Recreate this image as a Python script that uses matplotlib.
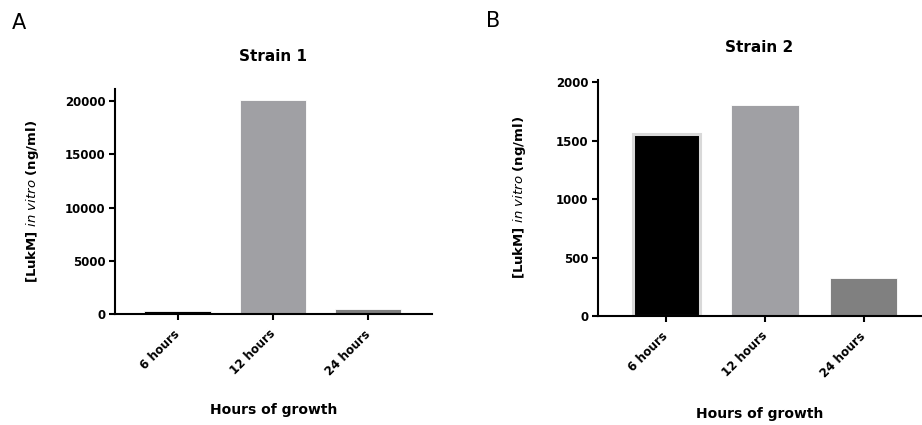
import numpy as np
import matplotlib.pyplot as plt

plt.rcParams['font.family'] = ['DejaVu Sans']
plt.rcParams['mathtext.fontset'] = 'custom'
plt.rcParams['mathtext.it'] = 'DejaVu Sans:italic'
plt.rcParams['mathtext.rm'] = 'DejaVu Sans:bold'

# Data
categories = ['6 hours', '12 hours', '24 hours']
strain1 = [300, 20050, 470]
strain2 = [1560, 1810, 325]
bar_colors = ['#000000', '#a0a0a4', '#808080']

ylabel = r'[LukM] $\it{in\ vitro}$ (ng/ml)'

fig = plt.figure(figsize=(9.22, 4.25), dpi=100)


def style_axes(ax, title, yticks, ylim, xlim, ylabelpad, xlabelpad):
    ax.set_xlim(*xlim)
    ax.set_ylim(*ylim)
    ax.set_yticks(yticks)
    ax.set_yticklabels([str(t) for t in yticks], fontsize=8.5, fontweight='bold')
    ax.set_xticks(np.arange(len(categories)))
    ax.set_xticklabels(categories, rotation=45, ha='right', va='center',
                       rotation_mode='anchor', fontsize=8.5, fontweight='bold')
    ax.spines['top'].set_visible(False)
    ax.spines['right'].set_visible(False)
    ax.spines['left'].set_linewidth(1.5)
    ax.spines['bottom'].set_linewidth(1.5)
    ax.tick_params(axis='both', width=1.5, length=4, direction='out')
    ax.tick_params(axis='x', pad=9)
    ax.tick_params(axis='y', pad=3)
    ax.set_title(title, fontsize=11, fontweight='bold', pad=20)
    ax.set_xlabel('Hours of growth', fontsize=10, fontweight='bold', labelpad=xlabelpad)
    ax.set_ylabel(ylabel, fontsize=9.5, fontweight='bold', labelpad=ylabelpad)


x = np.arange(len(categories))

# Panel A
axA = fig.add_axes([0.1247, 0.2612, 0.3438, 0.5294])
axA.bar(x, strain1, width=0.7, color=bar_colors, edgecolor='white', linewidth=0.6)
style_axes(axA, 'Strain 1', [0, 5000, 10000, 15000, 20000], (0, 21130), (-0.66, 2.67), 17, 18)

# Panel B
axB = fig.add_axes([0.6486, 0.2565, 0.3504, 0.5553])
barsB = axB.bar(x, strain2, width=0.68, color=bar_colors, edgecolor='white', linewidth=0.6)
barsB[0].set_edgecolor('#d9d9d9')
barsB[0].set_linewidth(2.2)
style_axes(axB, 'Strain 2', [0, 500, 1000, 1500, 2000], (0, 2020), (-0.69, 2.58), 20, 20)

fig.text(0.013, 0.945, 'A', fontsize=15, ha='left', va='center')
fig.text(0.527, 0.95, 'B', fontsize=15, ha='left', va='center')

fig.savefig('out.png', dpi=100)
